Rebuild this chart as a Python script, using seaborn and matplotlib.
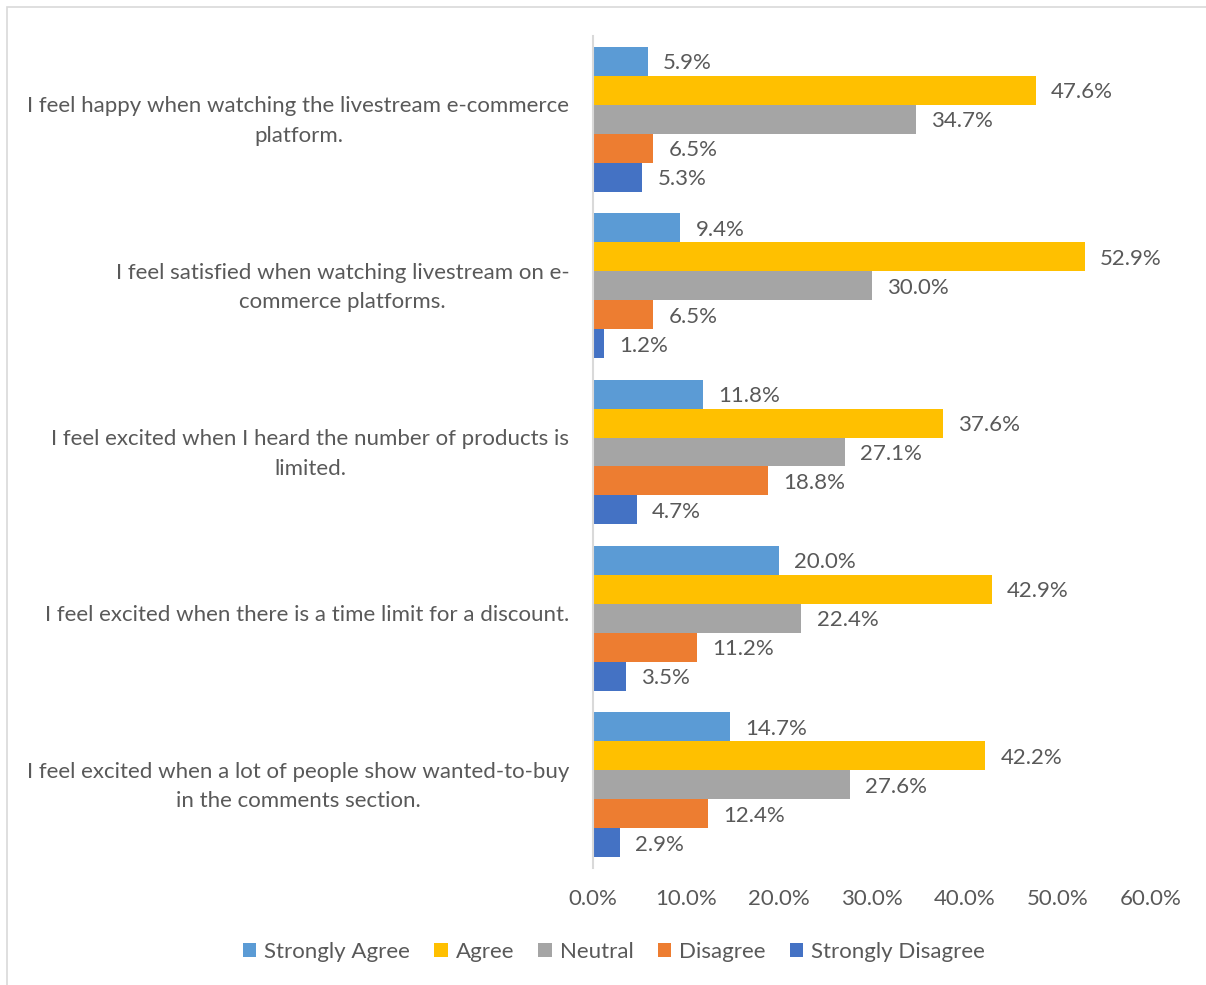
import matplotlib
matplotlib.use("Agg")
import matplotlib.pyplot as plt
from matplotlib.ticker import PercentFormatter, MultipleLocator
from matplotlib.patches import Rectangle
from matplotlib.transforms import ScaledTranslation
import seaborn as sns
import pandas as pd

statements = [
    "I feel happy when watching the livestream e-commerce\nplatform.",
    "I feel satisfied when watching livestream on e-\ncommerce platforms.",
    "I feel excited when I heard the number of products is\nlimited.",
    "I feel excited when there is a time limit for a discount.",
    "I feel excited when a lot of people show wanted-to-buy\nin the comments section.",
]
responses = ["Strongly Agree", "Agree", "Neutral", "Disagree", "Strongly Disagree"]

strongly_agree = [0.059, 0.094, 0.118, 0.200, 0.147]
agree = [0.476, 0.529, 0.376, 0.429, 0.422]
neutral = [0.347, 0.300, 0.271, 0.224, 0.276]
disagree = [0.065, 0.065, 0.188, 0.112, 0.124]
strongly_disagree = [0.053, 0.012, 0.047, 0.035, 0.029]

palette = ["#5B9BD5", "#FFC000", "#A5A5A5", "#ED7D31", "#4472C4"]

series = [strongly_agree, agree, neutral, disagree, strongly_disagree]
rows = []
for resp, vals in zip(responses, series):
    for stmt, v in zip(statements, vals):
        rows.append({"Statement": stmt, "Response": resp, "Share": v})
df = pd.DataFrame(rows)

sns.set_theme(style="white")
plt.rcParams["font.family"] = ["Lato", "DejaVu Sans"]
text_color = "#595959"
fs = 16

fig = plt.figure(figsize=(12.06, 9.85), dpi=100)
ax = fig.add_axes([593 / 1206, 1 - 868 / 985, (1151 - 593) / 1206, (868 - 36) / 985])

sns.barplot(
    data=df, y="Statement", x="Share", hue="Response",
    order=statements, hue_order=responses, palette=palette,
    orient="h", width=0.87, gap=0, errorbar=None, saturation=1,
    linewidth=0, ax=ax, legend=True,
)

for container in ax.containers:
    labels = [f"{v * 100:.1f}%" for v in container.datavalues]
    texts = ax.bar_label(container, labels=labels, padding=11, fontsize=fs, color=text_color)
    for t in texts:
        t.set_va("center_baseline")

ax.set_xlim(0, 0.6)
ax.xaxis.set_major_locator(MultipleLocator(0.1))
ax.xaxis.set_major_formatter(PercentFormatter(1, decimals=1))
ax.set_xlabel("")
ax.set_ylabel("")
ax.tick_params(axis="x", length=0, pad=15, labelsize=fs, labelcolor=text_color)
ax.tick_params(axis="y", length=0, pad=17, labelsize=fs, labelcolor=text_color)
lift = ScaledTranslation(0, 5 / 100, fig.dpi_scale_trans)
for lbl in ax.get_yticklabels():
    lbl.set_multialignment("center")
    lbl.set_linespacing(1.6)
    lbl.set_transform(lbl.get_transform() + lift)

for side in ["top", "right", "bottom"]:
    ax.spines[side].set_visible(False)
ax.spines["left"].set_color("#D9D9D9")
ax.spines["left"].set_linewidth(1.5)
ax.grid(False)

handles, labels = ax.get_legend_handles_labels()
ax.get_legend().remove()
fig.legend(
    handles, labels, loc="center", bbox_to_anchor=(0.509, 1 - 952 / 985),
    ncol=5, frameon=False, fontsize=fs, labelcolor=text_color,
    handlelength=0.6, handleheight=0.6, handletextpad=0.35, columnspacing=1.1,
)

fig.patches.append(Rectangle((7 / 1206, -0.1), 1.2, 1 - 7 / 985 + 0.1,
                             transform=fig.transFigure, fill=False,
                             edgecolor="#D9D9D9", linewidth=1.2))

fig.savefig("out.png", dpi=100, facecolor="white")
